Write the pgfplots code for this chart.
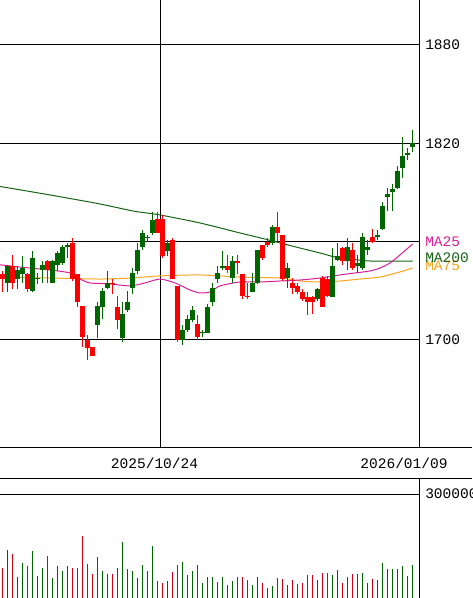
\documentclass[border=0pt]{standalone}
\usepackage{pgfplots}
\pgfplotsset{compat=1.18}
\usepackage{pgfplotstable}
\usepackage{fontspec}
\setmainfont{Liberation Mono}
\definecolor{upc}{RGB}{0,102,0}
\definecolor{dnc}{RGB}{250,0,0}
\definecolor{vupc}{RGB}{0,100,0}
\definecolor{vdnc}{RGB}{210,0,20}
\definecolor{ma25c}{RGB}{214,32,150}
\definecolor{ma75c}{RGB}{245,165,30}
\definecolor{ma200c}{RGB}{20,100,20}

\pgfplotstableread{
k O H L C V
1 1735 1746 1729 1745 138500
3 1737 1745 1731 1743 61500
4 1740 1751 1735 1744 101000
6 1730 1754 1729 1750 135600
7 1737 1741 1734 1738 63500
8 1743 1748 1735 1746 86500
10 1735 1749 1735 1748 57700
11 1746 1754 1742 1753 92300
12 1747 1758 1746 1757 77900
13 1757 1759 1750 1758 92300
19 1709 1723 1701 1721 118300
20 1720 1732 1713 1730 77900
21 1732 1742 1731 1735 69200
24 1701 1723 1699 1716 161500
25 1718 1730 1717 1723 83700
26 1732 1744 1728 1741 77900
27 1742 1759 1740 1755 57700
28 1757 1767 1755 1765 95200
29 1762 1764 1760 1763 77900
30 1765 1778 1764 1773 150000
33 1754 1761 1751 1759 49000
36 1700 1709 1697 1706 103800
37 1706 1715 1705 1713 66300
38 1712 1721 1711 1718 77900
40 1704 1706 1702 1705 43300
41 1704 1722 1704 1720 60600
42 1723 1735 1721 1732 60600
43 1737 1745 1735 1741 46200
44 1744 1754 1743 1745 60600
46 1738 1751 1735 1748 49000
50 1729 1741 1729 1735 37500
51 1735 1755 1734 1755 60600
54 1759 1770 1758 1769 34600
57 1738 1747 1732 1744 37500
63 1725 1732 1724 1731 51900
66 1726 1756 1726 1745 66300
67 1749 1759 1748 1751 80800
69 1748 1762 1743 1757 60600
71 1745 1752 1741 1747 69200
72 1744 1765 1743 1763 72100
73 1755 1761 1752 1757 43300
75 1763 1767 1761 1764 51900
76 1768 1784 1767 1782 101000
77 1787 1793 1779 1789 83700
78 1790 1795 1779 1792 83700
79 1793 1806 1792 1803 83700
80 1805 1824 1799 1812 92300
81 1813 1817 1810 1814 63500
82 1818 1828 1815 1820 95200
}\upT

\pgfplotstableread{
k O H L C V
0 1740 1742 1729 1737 87500
2 1745 1752 1731 1735 127000
5 1740 1741 1729 1731 92300
9 1748 1749 1735 1743 121200
14 1759 1762 1736 1737 86500
15 1740 1740 1720 1723 86500
16 1721 1721 1696 1702 178800
17 1700 1703 1688 1695 98100
18 1696 1696 1690 1690 69200
22 1735 1737 1728 1734 69200
23 1720 1727 1707 1712 86500
31 1774 1778 1765 1765 49000
32 1774 1776 1750 1751 43300
34 1761 1762 1737 1737 75000
35 1733 1733 1699 1700 95200
39 1710 1715 1700 1702 95200
45 1745 1752 1741 1743 37500
47 1748 1752 1740 1747 60600
48 1740 1740 1725 1727 60600
49 1727 1735 1725 1726 51900
52 1758 1758 1749 1750 43300
53 1760 1762 1757 1758 28800
55 1769 1778 1760 1765 57700
56 1764 1764 1736 1737 54800
58 1735 1738 1728 1732 51900
59 1733 1735 1728 1729 40400
60 1729 1731 1724 1725 43300
61 1726 1729 1715 1723 66300
62 1726 1727 1716 1723 66300
64 1738 1739 1720 1720 72100
65 1737 1739 1726 1727 72100
68 1756 1757 1746 1748 43300
70 1755 1759 1743 1744 69200
74 1763 1768 1759 1760 54800
}\dnT

\newcommand{\lblfont}{\fontsize{10.9}{12}\selectfont}

\begin{document}
\begin{tikzpicture}
\useasboundingbox (0pt,0pt) rectangle (354pt,-448.5pt);
\begin{axis}[
  at={(0pt,0pt)}, anchor=north west,
  scale only axis, width=314.25pt, height=335.25pt,
  xmin=-0.533, xmax=83.27, ymin=1634.7, ymax=1907.46,
  axis x line=bottom, axis y line=right,
  axis line style={-, line width=0.75pt, black},
  major tick length=0pt,
  ytick={1700,1760,1820,1880}, yticklabels={1700,,1820,1880},
  ymajorgrids, major grid style={black, line width=0.75pt},
  xtick={30.37,80.27}, xticklabels={2025/10/24,2026/01/09},
  xticklabel style={anchor=center, yshift=-12pt},
  yticklabel style={anchor=west, inner sep=0pt, xshift=4.5pt},
  extra x ticks={31.47}, extra x tick labels={}, extra x tick style={grid=major},
  tick label style={font=\lblfont},
  /pgf/number format/assume math mode=true,
]
% moving averages
\addplot[ma200c, line width=0.75pt, smooth, tension=0.4, mark=none] coordinates {
(-0.5,1793.6)(0,1793.4)(9.47,1788.5)(19.47,1783.0)(26.07,1778.7)(31.47,1776.3)(39.47,1771.4)(47.47,1765.3)(52.47,1761.6)(55.47,1759.2)(59.47,1756.1)(63.47,1753.1)(66.47,1750.6)(69.47,1749.4)(73.47,1748.2)(82,1748.2)};
\addplot[ma75c, line width=0.75pt, smooth, tension=0.4, mark=none] coordinates {
(-0.5,1738.4)(9.47,1737.8)(19.47,1737.2)(25.47,1737.8)(31.47,1739.1)(39.47,1739.7)(47.47,1738.4)(55.47,1737.8)(59.47,1736.0)(63.47,1735.4)(67.47,1736.0)(71.47,1737.2)(75.47,1738.4)(79.47,1741.5)(82,1743.9)};
\addplot[ma25c, line width=0.75pt, smooth, tension=0.4, mark=none] coordinates {
(-0.5,1745.9)(3.47,1744.5)(9.47,1742.7)(13.47,1740.9)(15.47,1737.2)(17.47,1734.8)(21.47,1734.2)(25.47,1733.0)(28.47,1734.8)(31.47,1737.2)(34.47,1734.8)(37.47,1730.5)(39.47,1728.7)(41.47,1729.3)(43.47,1733.0)(47.47,1735.4)(51.47,1735.4)(55.47,1736.0)(59.47,1736.6)(63.47,1737.8)(67.47,1739.7)(70.47,1740.9)(73.47,1742.1)(75.47,1743.9)(77.47,1747.0)(79.47,1751.9)(82,1758.6)};
% wicks
\addplot[draw=none, mark=none, error bars/.cd, y dir=plus, y explicit, error mark=none,
  error bar style={draw=upc, solid, line width=0.75pt}]
  table[x=k, y=L, y error plus expr=\thisrow{H}-\thisrow{L}] {\upT};
\addplot[draw=none, mark=none, error bars/.cd, y dir=plus, y explicit, error mark=none,
  error bar style={draw=dnc, solid, line width=0.75pt}]
  table[x=k, y=L, y error plus expr=\thisrow{H}-\thisrow{L}] {\dnT};
% bodies
\addplot[draw=none, mark=none, error bars/.cd, y dir=plus, y explicit, error mark=none,
  error bar style={draw=upc, solid, line width=3.3pt}]
  table[x=k, y=O, y error plus expr=\thisrow{C}-\thisrow{O}] {\upT};
\addplot[draw=none, mark=none, error bars/.cd, y dir=plus, y explicit, error mark=none,
  error bar style={draw=dnc, solid, line width=3.3pt}]
  table[x=k, y=C, y error plus expr=\thisrow{O}-\thisrow{C}] {\dnT};
\end{axis}

\begin{axis}[
  at={(0pt,-358.5pt)}, anchor=north west,
  scale only axis, width=314.25pt, height=90pt,
  xmin=-0.533, xmax=83.27, ymin=0, ymax=346154,
  axis x line=none, axis y line=right,
  axis line style={-, line width=0.75pt, black},
  major tick length=0pt, xtick=\empty,
  ytick={300000}, yticklabels={300000}, scaled y ticks=false,
  ymajorgrids, major grid style={black, line width=0.75pt},
  yticklabel style={anchor=west, inner sep=0pt, xshift=4.5pt, font=\lblfont},
]
\addplot[ycomb, vupc, line width=0.75pt, mark=none] table[x=k, y=V] {\upT};
\addplot[ycomb, vdnc, line width=0.75pt, mark=none] table[x=k, y=V] {\dnT};
\end{axis}

\draw[line width=0.75pt] (0pt,-335.25pt) -- (354pt,-335.25pt);
\draw[line width=0.75pt] (0pt,-358.5pt) -- (354pt,-358.5pt);

\node[anchor=west, inner sep=0pt, text=ma75c, font=\lblfont] at (318.75pt,-199.5pt) {MA75};
\node[anchor=west, inner sep=0pt, text=ma200c, font=\lblfont] at (318.75pt,-193.5pt) {MA200};
\node[anchor=west, inner sep=0pt, text=ma25c, font=\lblfont] at (318.75pt,-181.5pt) {MA25};
\end{tikzpicture}
\end{document}
